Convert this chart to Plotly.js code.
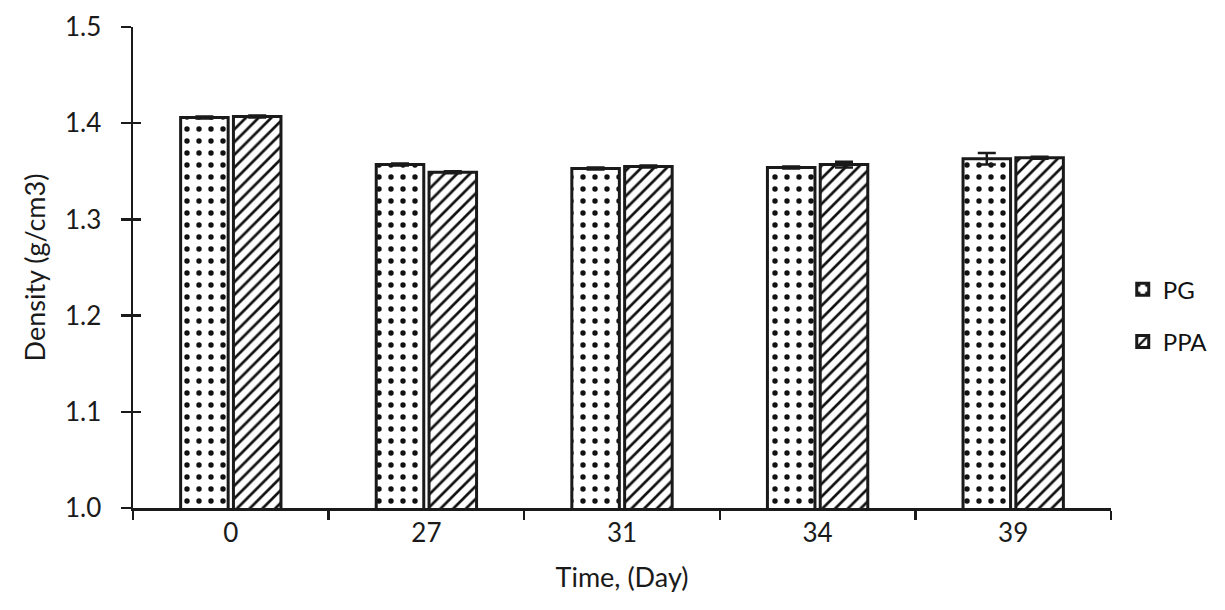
<!DOCTYPE html>
<html>
<head>
<meta charset="utf-8">
<script src="https://cdn.plot.ly/plotly-3.0.1.min.js"></script>
<style>html,body{margin:0;padding:0;background:#fff;}#chart{width:1225px;height:610px;}</style>
</head>
<body>
<div id="chart"></div>
<script>
const categories = ["0", "27", "31", "34", "39"];
const pgValues = [1.406, 1.357, 1.353, 1.354, 1.363];
const pgErrors = [0.001, 0.001, 0.001, 0.001, 0.006];
const ppaValues = [1.407, 1.349, 1.355, 1.357, 1.364];
const ppaErrors = [0.001, 0.001, 0.001, 0.003, 0.001];
const yTicks = [1.0, 1.1, 1.2, 1.3, 1.4, 1.5];
const yTickLabels = ["1.0", "1.1", "1.2", "1.3", "1.4", "1.5"];

const fontFam = "Lato, 'Open Sans', sans-serif";
const ink = "#1a1a1a";

const traces = [
  {
    type: "bar", name: "PG", x: categories, y: pgValues, legendgroup: "a",
    error_y: {type: "data", array: pgErrors, visible: true, color: ink, thickness: 2.5, width: 9},
    marker: {color: "#fff", line: {color: ink, width: 3},
      pattern: {shape: ".", fgcolor: "#111", bgcolor: "#fff", size: 12, solidity: 0.16}}
  },
  {
    type: "bar", name: "PPA", x: categories, y: ppaValues, legendgroup: "b",
    error_y: {type: "data", array: ppaErrors, visible: true, color: ink, thickness: 2.5, width: 9},
    marker: {color: "#fff", line: {color: ink, width: 3},
      pattern: {shape: "/", fgcolor: "#111", bgcolor: "#fff", size: 9, solidity: 0.3}}
  },
  {
    type: "scatter", mode: "markers", x: categories, y: pgValues,
    marker: {opacity: 0, size: 1}, yaxis: "y2", showlegend: false, hoverinfo: "skip"
  }
];

const layout = {
  width: 1225, height: 610,
  margin: {l: 133, r: 110, t: 27, b: 102},
  paper_bgcolor: "#fff", plot_bgcolor: "#fff",
  barmode: "group", bargap: 0.46, bargroupgap: 0.1,
  font: {family: fontFam, color: ink, size: 26},
  showlegend: true,
  legend: {x: 1.012, y: 0.4, xanchor: "left", yanchor: "middle",
    font: {size: 24, family: fontFam, color: "#111"}, tracegroupgap: 18,
    itemwidth: 30, bgcolor: "rgba(0,0,0,0)"},
  xaxis: {
    type: "category", showline: true, linecolor: ink, linewidth: 2.5,
    ticks: "outside", tickson: "boundaries", ticklen: 9, tickwidth: 2.5, tickcolor: ink,
    tickfont: {size: 26, family: fontFam, color: ink},
    showgrid: false, zeroline: false,
    title: {text: "Time, (Day)", font: {size: 27, family: fontFam, color: ink}, standoff: 22}
  },
  yaxis: {
    range: [1.0, 1.5], tickvals: yTicks, ticktext: yTickLabels,
    showline: true, linecolor: ink, linewidth: 2.5,
    ticks: "outside", ticklen: 10, tickwidth: 2.5, tickcolor: ink, ticklabelstandoff: 14,
    tickfont: {size: 26, family: fontFam, color: ink},
    showgrid: false, zeroline: false,
    title: {text: "Density (g/cm3)", font: {size: 27, family: fontFam, color: ink}, standoff: 12}
  },
  yaxis2: {
    overlaying: "y", range: [1.0, 1.5], tickvals: yTicks, showticklabels: false,
    ticks: "inside", ticklen: 8, tickwidth: 2.5, tickcolor: ink,
    showline: false, showgrid: false, zeroline: false, side: "left"
  }
};

Plotly.newPlot("chart", traces, layout, {displayModeBar: false, staticPlot: true});
</script>
</body>
</html>
